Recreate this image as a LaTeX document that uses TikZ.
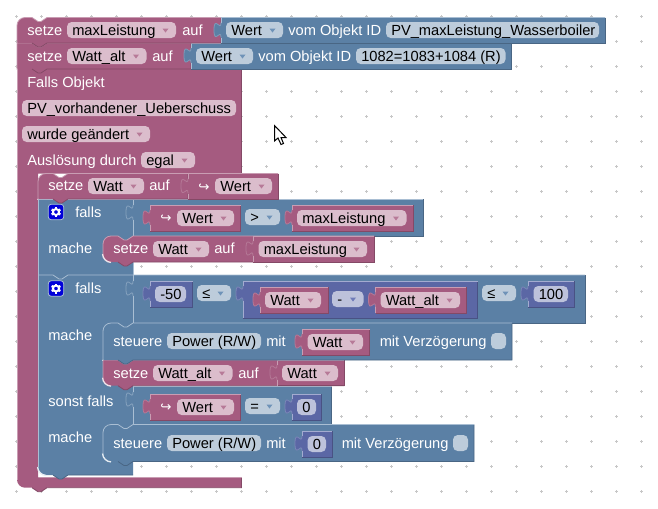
\documentclass[tikz,border=0pt]{standalone}
\usepackage{fontspec}
\setmainfont{Liberation Sans}
\newfontfamily\symfont{DejaVu Sans}
\definecolor{blkp}{HTML}{A55B80}
\definecolor{blkb}{HTML}{5B80A5}
\definecolor{blkv}{HTML}{5B67A5}
\definecolor{litp}{HTML}{C99DB3}
\definecolor{litb}{HTML}{A9BED3}
\definecolor{litv}{HTML}{A3ABD0}
\definecolor{drkp}{HTML}{844966}
\definecolor{drkb}{HTML}{496684}
\definecolor{drkv}{HTML}{495284}
\definecolor{pillp}{HTML}{DBBDCC}
\definecolor{pillb}{HTML}{BDCCDB}
\definecolor{pillv}{HTML}{BDC2DB}
\definecolor{tipp}{HTML}{B77A98}
\definecolor{tipb}{HTML}{6F93B8}
\definecolor{tipv}{HTML}{6F7BB8}
\tikzset{
  edge/.style={line width=.6pt},
  griddot/.style={line width=.6pt,color=black!22},
  lbl/.style={anchor=base west,inner sep=0pt,text=white,font=\fontsize{11}{13}\selectfont},
  fldtxt/.style={anchor=base west,inner sep=0pt,text=black,font=\fontsize{11}{13}\selectfont},
  gearbox/.style={fill=blue!85!black,draw=litb,line width=.6pt,rounded corners=2pt,minimum size=11.5pt,inner sep=0pt},
}
% path pieces
\newcommand{\tabin}{.. controls +(0,10) and +(0,-15.5) .. ++(-7,7.5) .. controls +(0,15.5) and +(0,-10) .. ++(7,7.5)}
\newcommand{\notchtop}{-- ++(6,4) -- ++(3,0) -- ++(6,-4)}
\newcommand{\notchbot}{-- ++(-6,4) -- ++(-3,0) -- ++(-6,-4)}
% colour, x1, x2, y1, y2, top radius, bottom radius
\newcommand{\stmtblk}[7]{
  \fill[blk#1] (#2,#4+#6) .. controls (#2,#4+.45*#6) and (#2+.45*#6,#4) .. (#2+#6,#4) -- (#2+15,#4) \notchtop -- (#3,#4) -- (#3,#5) -- (#2+30,#5) \notchbot -- (#2+#7,#5) .. controls (#2+.45*#7,#5) and (#2,#5-.45*#7) .. (#2,#5-#7) -- cycle;
  \draw[edge,drk#1] (#3,#4) -- (#3,#5) -- (#2+30,#5) \notchbot;
  \draw[edge,lit#1] (#2,#5-#7) -- (#2,#4+#6) .. controls (#2,#4+.45*#6) and (#2+.45*#6,#4) .. (#2+#6,#4) -- (#2+15,#4) \notchtop -- (#3,#4);
  \draw[line width=1pt,white!70!lit#1] (#2+#7,#5+.4) .. controls (#2+.45*#7,#5+.4) and (#2-.4,#5-.45*#7) .. (#2-.4,#5-#7);
}
% colour, x1, x2, y1, y2
\newcommand{\valblk}[5]{
  \fill[blk#1] (#3,#4) -- (#2,#4) -- (#2,#4+5) \tabin -- (#2,#5) -- (#3,#5) -- cycle;
  \draw[edge,drk#1] (#3,#4) -- (#3,#5) -- (#2,#5);
  \draw[edge,lit#1] (#3,#4) -- (#2,#4) -- (#2,#4+5);
  \draw[edge,lit#1!45!blk#1] (#2,#4+5) \tabin;
  \draw[edge,lit#1] (#2,#4+20) -- (#2,#5);
}
% x, y1, y2 of a row's open socket
\newcommand{\socketline}[3]{
  \draw[edge,litb] (#1,#2) -- (#1,#2+6);
  \draw[edge,litb!55!blkb] (#1,#2+6) \tabin;
  \draw[edge,litb] (#1,#2+21) -- (#1,#3);
}
\newcommand{\lbl}[4]{\node (#1) [lbl] at (#2,#3) {#4};}
% name, colour, x1, x2, y, text
\newcommand{\txfld}[6]{
  \fill[pill#2,rounded corners=3.5pt] (#3,#5) rectangle (#4,#5+16);
  \node (#1) [fldtxt] at (#3+5,#5+13) {#6};
}
\newcommand{\ddfld}[6]{
  \txfld{#1}{#2}{#3}{#4}{#5}{#6}
  \fill[tip#2] (#4-13.5,#5+6.5) -- (#4-7.5,#5+6.5) -- (#4-10.5,#5+10.5) -- cycle;
}
\newcommand{\gearicon}[3]{
  \node (#1) [gearbox] at (#2,#3) {};
  \begin{scope}[shift={(#2,#3)}]
    \draw[white,line width=1.5pt] (0,0) circle[radius=3];
    \foreach \a in {30,90,...,330} \draw[white,line width=1.7pt] (\a:3.5) -- (\a:5);
  \end{scope}
}

\begin{document}
\begin{tikzpicture}[x=.75pt,y=-.75pt]
\useasboundingbox (0,0) rectangle (658,508);
\fill[white] (0,0) rectangle (658,508);
% workspace grid
\foreach \gx in {0,...,25} \foreach \gy in {0,...,19}
  \draw[griddot] (16.67+25*\gx-1.5,16.67+25*\gy) -- ++(3,0) (16.67+25*\gx,16.67+25*\gy-1.5) -- ++(0,3);
% pointer
\draw[black,fill=white,line width=.75pt,line join=miter] (274.5,125.5) -- (274.5,141) -- (278,138) -- (281,144.5) -- (283.5,143.5) -- (281,137.5) -- (286,137.5) -- cycle;

% Falls Objekt
\fill[blkp] (17,69) -- (241,69) -- (241,173.5) -- (38,173.5) -- (38,477.3) -- (241.5,477.3) -- (241.5,487.7) -- (47,487.7) \notchbot -- (25,487.7) .. controls (20.6,487.7) and (17,484.1) .. (17,479.7) -- cycle;
\draw[edge,drkp] (241,69) -- (241,173.5);
\draw[edge,drkp] (241.5,477.3) -- (241.5,487.7) -- (47,487.7) \notchbot;
\draw[edge,litp] (17,479.7) -- (17,69);
\draw[edge,litp] (60,477.3) -- (241.5,477.3);
\lbl{fallsobj}{27}{87}{Falls Objekt}
\txfld{pvueber}{p}{22}{236}{100}{PV\_vorhandener\_Ueberschuss}
\ddfld{geaendert}{p}{22}{150}{126}{wurde geändert}
\lbl{ausloesung}{27}{165}{Auslösung durch}
\ddfld{egal}{p}{141}{195}{152}{egal}

% falls block with its rows
\fill[blkb] (38,199) -- (423,199) -- (423,236) -- (133,236) -- (133,275) -- (585,275) -- (585,323) -- (133,323) -- (133,386) -- (331.5,386) -- (331.5,424.5) -- (133,424.5) -- (133,475) -- (68,475) \notchbot -- (46,475) .. controls (41.6,475) and (38,471.4) .. (38,467) -- cycle;
\draw[edge,drkb] (423,199) -- (423,236) -- (133,236);
\draw[edge,drkb] (585,275) -- (585,323) -- (133,323);
\draw[edge,drkb] (331.5,386) -- (331.5,424.5) -- (133,424.5);
\draw[edge,drkb] (133,475) -- (68,475) \notchbot;
\draw[line width=1pt,white!70!litb] (46,475.4) .. controls (41.6,475.4) and (37.6,471.4) .. (37.6,467);
\draw[edge,litb] (38,467) -- (38,199);
\draw[edge,litb] (38,199) -- (423,199);
\socketline{133}{199}{275}
\draw[edge,litb] (38,275) -- (53,275) \notchtop -- (585,275);
\socketline{133}{275}{323}
\socketline{133}{386}{424.5}
\draw[edge,litb] (133,386) -- (331.5,386);
\gearicon{gearA}{56}{212}
\gearicon{gearB}{56}{288.5}
\lbl{fallsA}{75}{217}{falls}
\lbl{macheA}{48}{253}{mache}
\lbl{fallsB}{75}{293}{falls}
\lbl{macheB}{48}{340}{mache}
\lbl{sonst}{48}{406}{sonst falls}
\lbl{macheC}{48}{442}{mache}

% falls condition one
\valblk{p}{150}{240.5}{205}{231}
\node (pfeilA) [lbl,font=\symfont\fontsize{10}{12}\selectfont] at (160,222.5) {↪};
\ddfld{wertC}{p}{177}{234}{210}{Wert}
\ddfld{groesser}{b}{245}{280}{209}{>}
\valblk{p}{292}{413}{205}{231}
\ddfld{maxB}{p}{297}{406.5}{210}{maxLeistung}

% falls condition two
\valblk{v}{150}{192.5}{281}{307}
\txfld{minusfuenfzig}{v}{155}{186}{286}{-50}
\ddfld{leA}{b}{197}{231}{285}{≤}
\valblk{v}{243}{477.5}{281}{318}
\valblk{p}{260}{328}{287}{313}
\ddfld{wattC}{p}{265}{321}{292}{Watt}
\ddfld{minus}{v}{332}{363.5}{291}{-}
\valblk{p}{375.5}{466}{287}{313}
\ddfld{wattaltB}{p}{380.5}{460}{292}{Watt\_alt}
\ddfld{leB}{b}{482}{516}{285}{≤}
\valblk{v}{528}{574}{281}{307}
\txfld{hundert}{v}{533.5}{568}{286}{100}

% sonst falls condition
\valblk{p}{150}{240.5}{394}{420}
\node (pfeilB) [lbl,font=\symfont\fontsize{10}{12}\selectfont] at (160,411.5) {↪};
\ddfld{wertD}{p}{177}{234}{399}{Wert}
\ddfld{gleich}{b}{245}{280}{398}{=}
\valblk{v}{292}{321}{394}{420}
\txfld{nullA}{v}{297}{316}{399}{0}

% setze Watt_alt under steuere
\stmtblk{p}{103}{344}{360}{385.7}{0}{8}
\lbl{setzeE}{113}{378}{setze}
\ddfld{wattaltC}{p}{153}{232.5}{365}{Watt\_alt}
\lbl{aufE}{238}{378}{auf}
\valblk{p}{277}{344}{360}{385.7}
\ddfld{wattE}{p}{282}{338}{365}{Watt}

% steuere one
\stmtblk{b}{103}{512}{323}{360}{8}{0}
\lbl{steuereA}{113}{346}{steuere}
\txfld{powerA}{b}{167}{261}{333}{Power (R/W)}
\lbl{mitA}{266}{346}{mit}
\valblk{p}{302}{369.5}{329}{355}
\ddfld{wattD}{p}{307.5}{363}{334}{Watt}
\lbl{verzA}{379.5}{346}{mit Verzögerung}
\fill[pillb,rounded corners=3.5pt] (491,333) rectangle (506,349);

% steuere two
\stmtblk{b}{103}{474}{424.5}{461.5}{8}{8}
\lbl{steuereB}{113}{448}{steuere}
\txfld{powerB}{b}{167}{261}{435}{Power (R/W)}
\lbl{mitB}{266}{448}{mit}
\valblk{v}{302}{332}{431}{457}
\txfld{nullB}{v}{307.5}{326}{436}{0}
\lbl{verzB}{341.5}{448}{mit Verzögerung}
\fill[pillb,rounded corners=3.5pt] (453,435) rectangle (468,451);

% setze Watt auf maxLeistung
\stmtblk{p}{103}{374}{236}{262}{8}{8}
\lbl{setzeD}{113}{253.5}{setze}
\ddfld{wattB}{p}{153}{209}{241}{Watt}
\lbl{aufD}{214}{253.5}{auf}
\valblk{p}{253}{374}{236}{262}
\ddfld{maxC}{p}{258.5}{367}{241}{maxLeistung}

% setze Watt auf Wert
\stmtblk{p}{38}{188}{173.5}{199}{8}{0}
\lbl{setzeC}{48}{190.5}{setze}
\ddfld{wattA}{p}{88}{144}{178}{Watt}
\lbl{aufC}{149}{190.5}{auf}
\valblk{p}{188}{278}{173.5}{199}
\node (pfeilC) [lbl,font=\symfont\fontsize{10}{12}\selectfont] at (198,191) {↪};
\ddfld{wertB}{p}{215}{272}{178}{Wert}

% setze Watt_alt
\stmtblk{p}{17}{191}{43}{69}{0}{0}
\lbl{setzeB}{27}{61}{setze}
\ddfld{wattaltA}{p}{67}{146.5}{48}{Watt\_alt}
\lbl{aufB}{152}{61}{auf}
\valblk{b}{191}{511}{43}{69}
\ddfld{wertvB}{b}{196}{253}{48}{Wert}
\lbl{vomB}{258}{61}{vom Objekt ID}
\txfld{idB}{b}{356}{505.5}{48}{1082=1083+1084 (R)}

% setze maxLeistung
\stmtblk{p}{17}{221}{17.5}{43}{8}{0}
\lbl{setzeA}{27}{35}{setze}
\ddfld{maxA}{p}{67}{176}{22}{maxLeistung}
\lbl{aufA}{182}{35}{auf}
\valblk{b}{221}{605}{17.5}{43}
\ddfld{wertvA}{b}{226}{283}{22}{Wert}
\lbl{vomA}{288}{35}{vom Objekt ID}
\txfld{idA}{b}{386}{599}{22}{PV\_maxLeistung\_Wasserboiler}
\end{tikzpicture}
\end{document}
